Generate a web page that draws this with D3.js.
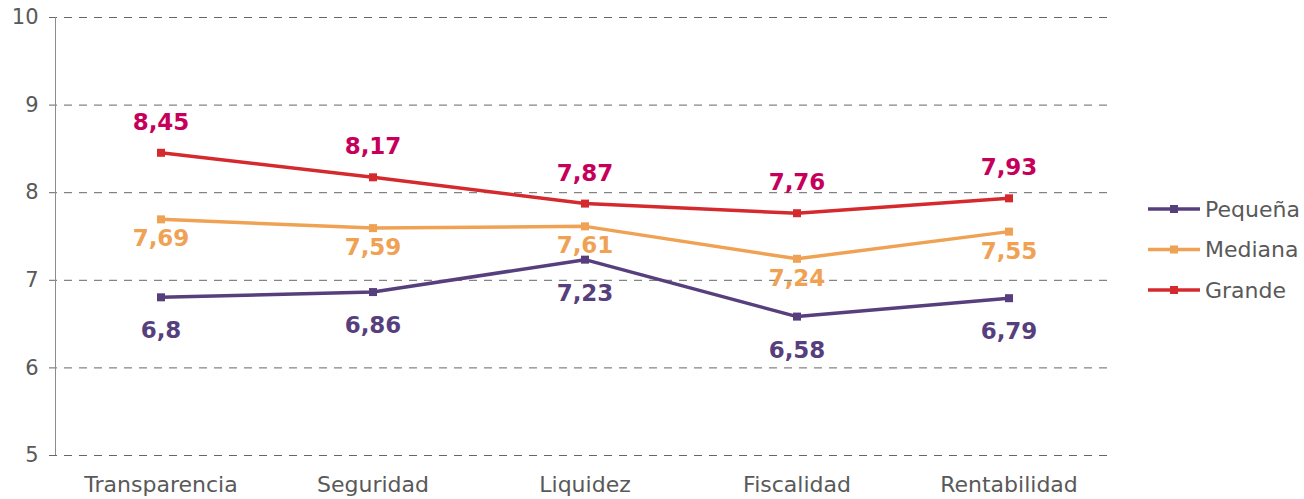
<!DOCTYPE html>
<html>
<head>
<meta charset="utf-8">
<script src="https://cdn.jsdelivr.net/npm/d3@7"></script>
<style>
	body { margin: 0; background: #fff; }
	svg { display: block; font-family: Verdana, "DejaVu Sans", sans-serif; }
</style>
</head>
<body>
<div id="app"></div>
<script>
const categories = ['Transparencia', 'Seguridad', 'Liquidez', 'Fiscalidad', 'Rentabilidad'];
const seriesNames = ['Pequeña', 'Mediana', 'Grande'];
const pequena = [6.8, 6.86, 7.23, 6.58, 6.79];
const mediana = [7.69, 7.59, 7.61, 7.24, 7.55];
const grande = [8.45, 8.17, 7.87, 7.76, 7.93];
const yTicks = [5, 6, 7, 8, 9, 10];

const width = 1304;
const height = 499;
const font = 'Verdana, "DejaVu Sans", sans-serif';

const series = [
	{ name: seriesNames[0], values: pequena, color: '#573f7d', labelColor: '#573f7d', dy: 33 },
	{ name: seriesNames[1], values: mediana, color: '#f0a254', labelColor: '#f0a254', dy: 19 },
	{ name: seriesNames[2], values: grande, color: '#d42a2e', labelColor: '#c6005a', dy: -31 },
];

const svg = d3.select('#app').append('svg')
	.attr('width', width)
	.attr('height', height);

const x = d3.scaleBand().domain(categories).range([55, 1115]);
const y = d3.scaleLinear().domain([5, 10]).range([455, 17]);

// grid lines
svg.append('g')
	.selectAll('line')
	.data(yTicks)
	.join('line')
	.attr('x1', 49)
	.attr('x2', 1112)
	.attr('y1', (d) => y(d) + 0.5)
	.attr('y2', (d) => y(d) + 0.5)
	.attr('stroke', '#666')
	.attr('stroke-width', 1)
	.attr('stroke-dasharray', '8,7');

// y axis
const yAxis = svg.append('g')
	.attr('transform', 'translate(55.5,0)')
	.call(d3.axisLeft(y).tickValues(yTicks).tickFormat(d3.format('d')).tickSize(0).tickPadding(17));
yAxis.select('.domain').attr('stroke', '#8c8c8c').attr('d', `M0,${y(10)}V${y(5)}`);
yAxis.selectAll('text')
	.attr('fill', '#595959')
	.attr('font-size', 21)
	.attr('font-family', font);

// x axis labels
const xAxis = svg.append('g')
	.attr('transform', `translate(0,${y(5)})`)
	.call(d3.axisBottom(x).tickSize(0).tickPadding(21));
xAxis.select('.domain').remove();
xAxis.selectAll('text')
	.attr('fill', '#595959')
	.attr('font-size', 22)
	.attr('font-family', font);

const cx = (c) => x(c) + x.bandwidth() / 2;
const line = d3.line()
	.x((d, i) => cx(categories[i]))
	.y((d) => y(d));

const g = svg.selectAll('g.series')
	.data(series)
	.join('g')
	.attr('class', 'series');

g.append('path')
	.attr('d', (d) => line(d.values))
	.attr('fill', 'none')
	.attr('stroke', (d) => d.color)
	.attr('stroke-width', 3.5)
	.attr('stroke-linejoin', 'round');

g.selectAll('rect')
	.data((d) => d.values.map((v, i) => ({ v, i, s: d })))
	.join('rect')
	.attr('x', (d) => cx(categories[d.i]) - 4)
	.attr('y', (d) => y(d.v) - 4)
	.attr('width', 8)
	.attr('height', 8)
	.attr('fill', (d) => d.s.color);

g.selectAll('text')
	.data((d) => d.values.map((v, i) => ({ v, i, s: d })))
	.join('text')
	.attr('x', (d) => cx(categories[d.i]))
	.attr('y', (d) => y(d.v) + d.s.dy)
	.attr('text-anchor', 'middle')
	.attr('dominant-baseline', 'central')
	.attr('font-size', 23)
	.attr('font-weight', 'bold')
	.attr('fill', (d) => d.s.labelColor)
	.text((d) => String(d.v).replace('.', ','));

// legend
const legend = svg.append('g')
	.selectAll('g')
	.data(series)
	.join('g')
	.attr('transform', (d, i) => `translate(1148,${209 + i * 40.5})`);

legend.append('line')
	.attr('x1', 0)
	.attr('x2', 52)
	.attr('stroke', (d) => d.color)
	.attr('stroke-width', 3.5);

legend.append('rect')
	.attr('x', 22)
	.attr('y', -4)
	.attr('width', 8)
	.attr('height', 8)
	.attr('fill', (d) => d.color);

legend.append('text')
	.attr('x', 57)
	.attr('dominant-baseline', 'central')
	.attr('font-size', 22)
	.attr('fill', '#595959')
	.text((d) => d.name);
</script>
</body>
</html>
